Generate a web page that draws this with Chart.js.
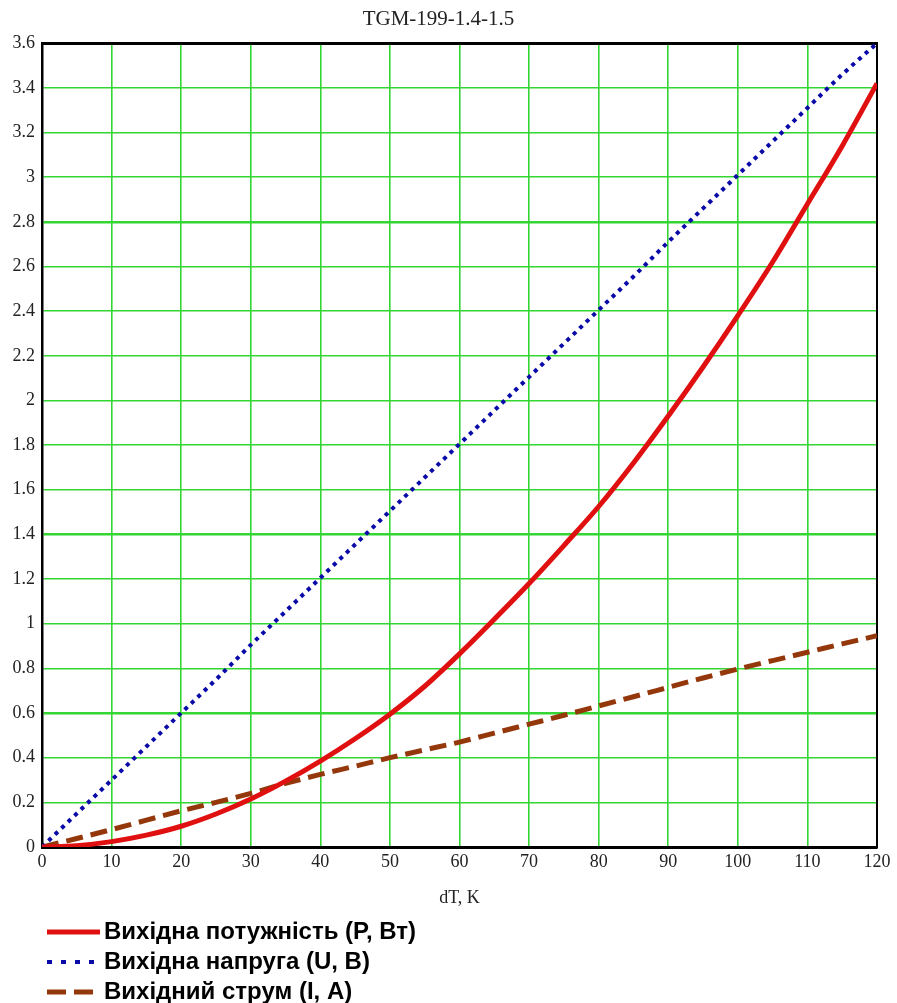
<!DOCTYPE html>
<html>
<head>
<meta charset="utf-8">
<script src="https://cdn.jsdelivr.net/npm/chart.js@4/dist/chart.umd.min.js"></script>
<style>
  html, body { margin: 0; padding: 0; background: #fff; }
  #wrap { width: 897px; height: 1003px; position: relative; }
</style>
</head>
<body>
<div id="wrap"><canvas id="c"></canvas></div>
<script>
// ---- data ----
const chartTitle = 'TGM-199-1.4-1.5';
const xAxisTitle = 'dT, K';
const dT = [0, 5, 10, 15, 20, 25, 30, 35, 40, 45, 50, 55, 60, 65, 70, 75, 80, 85, 90, 95, 100, 105, 110, 115, 120];
const powerP = [0, 0.006, 0.024, 0.053, 0.093, 0.148, 0.215, 0.295, 0.385, 0.485, 0.595, 0.72, 0.865, 1.02, 1.18, 1.35, 1.525, 1.72, 1.93, 2.15, 2.38, 2.62, 2.88, 3.14, 3.42];
const voltageU = [0, 0.15, 0.30, 0.45, 0.60, 0.75, 0.905, 1.055, 1.205, 1.355, 1.505, 1.655, 1.805, 1.955, 2.105, 2.255, 2.405, 2.555, 2.71, 2.86, 3.01, 3.16, 3.31, 3.46, 3.6];
const currentI = [0, 0.038, 0.078, 0.12, 0.162, 0.2, 0.24, 0.285, 0.325, 0.362, 0.40, 0.435, 0.47, 0.51, 0.55, 0.59, 0.632, 0.673, 0.715, 0.757, 0.797, 0.835, 0.872, 0.91, 0.946];
const seriesLabels = ['Вихідна потужність (P, Вт)', 'Вихідна напруга (U, В)', 'Вихідний струм (I, А)'];
const xTicksMin = 0, xTicksMax = 120, xStep = 10;
const yTicksMin = 0, yTicksMax = 3.6, yStep = 0.2;

// ---- styles ----
const GRID = '#33d633';
const boldGridY = [0.6, 1.4, 2.8];

const toXY = (ys) => dT.map((x, i) => ({ x: x, y: ys[i] }));

const stackedLegend = {
  id: 'stackedLegend',
  afterDraw(chart) {
    const ctx = chart.ctx;
    ctx.save();
    chart.data.datasets.forEach((ds, i) => {
      const y = 932 + i * 30;
      ctx.beginPath();
      ctx.strokeStyle = ds.borderColor;
      ctx.lineWidth = ds.borderWidth;
      ctx.lineCap = 'butt';
      ctx.setLineDash(ds.legendDash || []);
      ctx.moveTo(47, y);
      ctx.lineTo(100, y);
      ctx.stroke();
      ctx.setLineDash([]);
      ctx.fillStyle = '#000';
      ctx.font = 'bold 24px "Liberation Sans", Arial, sans-serif';
      ctx.textBaseline = 'middle';
      ctx.textAlign = 'left';
      ctx.fillText(ds.label, 104, y);
    });
    ctx.restore();
  }
};

new Chart(document.getElementById('c'), {
  type: 'line',
  data: {
    datasets: [
      { label: seriesLabels[0], data: toXY(powerP), borderColor: '#e01010', borderWidth: 5,
        pointRadius: 0, cubicInterpolationMode: 'monotone', legendDash: [] },
      { label: seriesLabels[1], data: toXY(voltageU), borderColor: '#0a0aa8', borderWidth: 4,
        borderDash: [4, 5], pointRadius: 0, cubicInterpolationMode: 'monotone', legendDash: [5, 9] },
      { label: seriesLabels[2], data: toXY(currentI), borderColor: '#94380c', borderWidth: 5,
        borderDash: [17, 8], pointRadius: 0, cubicInterpolationMode: 'monotone', legendDash: [19, 8] }
    ]
  },
  options: {
    responsive: true,
    maintainAspectRatio: false,
    animation: false,
    layout: { padding: { left: 0, right: 20, top: 0, bottom: 86 } },
    plugins: {
      legend: { display: false },
      tooltip: { enabled: false },
      title: {
        display: true, text: chartTitle, color: '#222',
        font: { family: '"Liberation Serif", "Times New Roman", serif', size: 21, weight: 'normal', lineHeight: 1.2 },
        padding: { top: 7, bottom: 11 }
      }
    },
    scales: {
      x: {
        type: 'linear', position: 'bottom', min: xTicksMin, max: xTicksMax,
        ticks: { stepSize: xStep, color: '#222', padding: 4, maxRotation: 0,
          font: { family: '"Liberation Serif", "Times New Roman", serif', size: 18 } },
        grid: { color: GRID, lineWidth: 1.6, drawTicks: false },
        border: { display: true, color: '#000', width: 3 },
        title: { display: true, text: xAxisTitle, color: '#222',
          font: { family: '"Liberation Serif", "Times New Roman", serif', size: 18 },
          padding: { top: 4, bottom: 8 } },
        afterFit(s) { s.height = 70; }
      },
      y: {
        type: 'linear', position: 'left', min: yTicksMin, max: yTicksMax,
        ticks: { stepSize: yStep, color: '#222', padding: 7,
          font: { family: '"Liberation Serif", "Times New Roman", serif', size: 18 },
          callback: (v) => String(Math.round(v * 10) / 10) },
        grid: { color: GRID, drawTicks: false,
          lineWidth: (c) => boldGridY.some(b => Math.abs(b - c.tick.value) < 1e-6) ? 2.6 : 1.6 },
        border: { display: true, color: '#000', width: 2.5 },
        afterFit(s) { s.width = 42; }
      },
      xTop: {
        type: 'linear', position: 'top', min: xTicksMin, max: xTicksMax,
        ticks: { display: false }, grid: { display: false, drawTicks: false },
        border: { display: true, color: '#000', width: 3 },
        afterFit(s) { s.height = 0; }
      },
      yRight: {
        type: 'linear', position: 'right', min: yTicksMin, max: yTicksMax,
        ticks: { display: false }, grid: { display: false, drawTicks: false },
        border: { display: true, color: '#000', width: 2 },
        afterFit(s) { s.width = 0; }
      }
    }
  },
  plugins: [stackedLegend]
});
</script>
</body>
</html>
